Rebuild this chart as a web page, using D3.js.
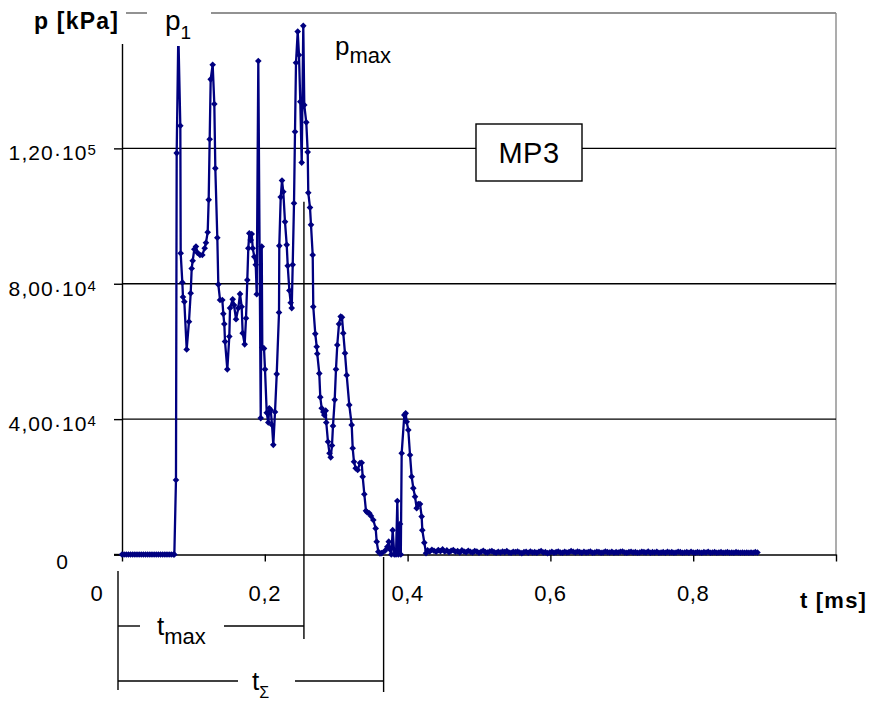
<!DOCTYPE html>
<html><head><meta charset="utf-8">
<script src="https://cdn.jsdelivr.net/npm/d3@7/dist/d3.min.js"></script>
<style>
html,body{margin:0;padding:0;background:#fff;}
svg{display:block;font-family:"Liberation Sans",Arial,sans-serif;}
</style></head>
<body>
<svg id="chart" width="874" height="701"></svg>
<script>
// ---- data ----
const leadStart = 0, leadStep = 0.003;
const leadValues = [0,0,0,0,0,0,0,0,0,0,0,0,0,0,0,0,0,0,0,0,0,0,0,0,0];

const activeTimes = [0.0733,0.0756,0.0766,0.0789,0.0817,0.0822,0.0845,0.0854,0.0873,0.0906,
0.0938,0.0962,0.0976,0.0990,0.1013,0.1036,0.1055,0.1092,0.1125,0.1158,
0.1176,0.1200,0.1214,0.1228,0.1242,0.1270,0.1293,0.1307,0.1335,0.1349,
0.1373,0.1405,0.1419,0.1433,0.1443,0.1475,0.1503,0.1513,0.1550,0.1569,
0.1597,0.1629,0.1653,0.1676,0.1690,0.1718,0.1737,0.1755,0.1769,0.1783,
0.1803,0.1817,0.1831,0.1853,0.1873,0.1887,0.1909,0.1943,0.1957,0.1965,
0.1989,0.2003,0.2027,0.2049,0.2063,0.2083,0.2101,0.2119,0.2143,0.2167,
0.2199,0.2203,0.2223,0.2241,0.2259,0.2283,0.2307,0.2321,0.2344,0.2363,
0.2377,0.2391,0.2409,0.2423,0.2437,0.2461,0.2479,0.2497,0.2517,0.2539,
0.2553,0.2581,0.2601,0.2609,0.2633,0.2647,0.2671,0.2679,0.2707,0.2727,
0.2735,0.2763,0.2777,0.2797,0.2819,0.2833,0.2853,0.2861,0.2885,0.2906,
0.2923,0.2941,0.2955,0.2979,0.2997,0.3015,0.3039,0.3063,0.3081,0.3099,
0.3123,0.3147,0.3183,0.3217,0.3231,0.3249,0.3273,0.3301,0.3333,0.3357,
0.3371,0.3394,0.3417,0.3436,0.3464,0.3487,0.3520,0.3553,0.3567,0.3590,
0.3613,0.3637,0.3683,0.3716,0.3736,0.3754,0.3772,0.3791,0.3814,0.3838,
0.3856,0.3870,0.3894,0.3905,0.3917,0.3954,0.3973,0.3987,0.4010,0.4034,
0.4057,0.4080,0.4104,0.4127,0.4150,0.4174,0.4197,0.4206,0.4234,0.4258];

const activeValues = [0,22000,118600,154000,126700,89000,80400,76100,74700,60600,
68800,77200,84500,86800,90200,91000,89200,88500,88500,90500,
92100,95200,104800,122700,140400,144700,133100,114100,93600,79800,
75200,75200,71100,68100,62900,54700,64400,72800,75400,73700,
69500,72800,77000,73200,65400,62100,69800,81100,90500,94900,
92900,94700,90500,88000,85600,76900,145800,40300,91000,61200,
60900,54700,41900,39000,43200,42700,38300,32400,42100,53300,
71500,91200,105600,110500,107200,98300,91500,85300,78000,74400,
72800,85600,103800,124900,145300,154500,147600,133800,115800,156200,
132800,127700,118900,106900,102500,97400,88500,73200,65200,61400,
59300,53500,46500,43200,42100,41200,42500,39000,33300,29900,
28700,32200,38000,45700,54700,61900,68100,70300,70100,65400,
59500,53000,44200,38300,31400,27400,25500,25000,27000,27100,
23000,17800,12900,12400,12200,11400,10200,7700,3800,800,
300,400,1100,2300,3800,1500,0,7200,0,0,
15800,0,9000,0,29900,41200,41700,39200,36800,29400,
23000,19600,17100,13700,14900,14900,11200,7200,3500,400];

const tailStart = 0.428, tailStep = 0.003;
const tailValues = [
1200,900,1400,1100,800,1300,1000,1500,900,1200,
700,1100,1300,800,1000,600,1200,900,700,1100,
800,600,1000,900,500,800,1100,700,600,900,
1000,700,500,800,600,900,700,1000,600,500,
800,700,900,600,400,700,800,500,900,600,
700,500,800,1000,600,700,400,600,800,500,
700,900,600,500,800,600,700,1000,800,600,
900,700,500,800,600,700,900,500,600,800,
700,500,600,900,700,600,800,500,700,600,
800,900,600,500,700,800,600,700,500,600,
800,700,600,900,500,700,600,800,500,600,
700,500,800,600,700,500,600,800,700,500,
600,700,500,800,600,500,700,600,500,700,
600,800,500,600,700,500,600,700,500,600,
700,500,600,500,700,600,500,600,500,600,
500,600,500,700,600];

const yTicks = [0, 40000, 80000, 120000];
const yTickMain = ["0", "4,00·10", "8,00·10", "1,20·10"];
const yTickExp = ["", "4", "4", "5"];
const xTicks = [0, 0.2, 0.4, 0.6, 0.8, 1.0];
const xTickLabels = ["0", "0,2", "0,4", "0,6", "0,8", ""];

// ---- build series ----
const series = [];
leadValues.forEach((v,i)=>series.push({t: leadStart + i*leadStep, p: v}));
activeTimes.forEach((t,i)=>series.push({t: t, p: activeValues[i]}));
tailValues.forEach((v,i)=>series.push({t: tailStart + i*tailStep, p: v}));

// ---- scales ----
const x = d3.scaleLinear().domain([0, 1.0]).range([122, 836]);
const y = d3.scaleLinear().domain([0, 160000]).range([554.5, 13]);

const svg = d3.select("#chart");
const FONT = "'Liberation Sans', Arial, sans-serif";

// plot border (top & right, gray)
svg.append("line").attr("x1", x(0)).attr("x2", x(1)).attr("y1", y(160000)).attr("y2", y(160000))
  .attr("stroke", "#6e6e6e").attr("stroke-width", 1.4);
svg.append("line").attr("x1", x(1)).attr("x2", x(1)).attr("y1", y(160000)).attr("y2", y(0))
  .attr("stroke", "#8a8a8a").attr("stroke-width", 1.4);

// gridlines
svg.append("g").selectAll("line").data(yTicks.slice(1)).join("line")
  .attr("x1", x(0)).attr("x2", x(1)).attr("y1", d=>y(d)).attr("y2", d=>y(d))
  .attr("stroke", "#000").attr("stroke-width", 1.4);

// y axis
const yAxis = svg.append("g").attr("transform", `translate(${x(0)},0)`)
  .call(d3.axisLeft(y).tickValues(yTicks).tickSize(8).tickFormat(""));
yAxis.select(".domain").attr("stroke", "#000").attr("stroke-width", 1.4);
yAxis.selectAll(".tick line").attr("stroke", "#000").attr("stroke-width", 1.4);

// x axis
const xAxis = svg.append("g").attr("transform", `translate(0,${y(0)})`)
  .call(d3.axisBottom(x).tickValues(xTicks).tickSize(7).tickSizeOuter(0).tickFormat(""));
xAxis.select(".domain").attr("stroke", "#000").attr("stroke-width", 1.4);
xAxis.selectAll(".tick line").attr("stroke", "#000").attr("stroke-width", 1.4);
svg.append("line").attr("x1", 114).attr("x2", x(0)).attr("y1", y(0)).attr("y2", y(0))
  .attr("stroke", "#000").attr("stroke-width", 1.4);

// brackets t_max, t_sigma
const tMax = 0.2548, tSum = 0.3664;
const br = svg.append("g").attr("stroke", "#000").attr("stroke-width", 1.4);
br.append("line").attr("x1", x(0)-4).attr("x2", x(0)-4).attr("y1", 571).attr("y2", 690);
br.append("line").attr("x1", x(tMax)).attr("x2", x(tMax)).attr("y1", 201.7).attr("y2", 639);
br.append("line").attr("x1", x(tSum)).attr("x2", x(tSum)).attr("y1", 557).attr("y2", 692);
br.append("line").attr("x1", x(0)-4).attr("x2", 140).attr("y1", 626).attr("y2", 626);
br.append("line").attr("x1", 224).attr("x2", x(tMax)).attr("y1", 626).attr("y2", 626);
br.append("line").attr("x1", x(0)-4).attr("x2", 238).attr("y1", 681).attr("y2", 681);
br.append("line").attr("x1", 295).attr("x2", x(tSum)).attr("y1", 681).attr("y2", 681);

// data line
const line = d3.line().x(d=>x(d.t)).y(d=>y(d.p));
svg.append("path").datum(series).attr("d", line)
  .attr("fill", "none").attr("stroke", "#000080").attr("stroke-width", 2.3)
  .attr("stroke-linejoin", "round");
const sym = d3.symbol().type(d3.symbolSquare).size(22);
svg.append("g").selectAll("path").data(series).join("path")
  .attr("d", sym)
  .attr("transform", d=>`translate(${x(d.t)},${y(d.p)}) rotate(45)`)
  .attr("fill", "#000080");

// label boxes
svg.append("rect").attr("x", 0).attr("y", 0).attr("width", 126).attr("height", 44).attr("fill", "#fff");
svg.append("rect").attr("x", 147).attr("y", 0).attr("width", 64).attr("height", 46).attr("fill", "#fff");

// texts
svg.append("text").attr("x", 34).attr("y", 29).attr("font-family", FONT).attr("font-weight", "bold")
  .attr("font-size", 23).attr("letter-spacing", 1.2).text("p [kPa]");

const p1 = svg.append("text").attr("x", 165).attr("y", 30).attr("font-family", FONT).attr("font-size", 28);
p1.append("tspan").text("p");
p1.append("tspan").attr("font-size", 19).attr("dy", 9).text("1");

const pm = svg.append("text").attr("x", 335).attr("y", 55).attr("font-family", FONT).attr("font-size", 26);
pm.append("tspan").text("p");
pm.append("tspan").attr("font-size", 22).attr("dy", 8).text("max");

svg.append("rect").attr("x", 476).attr("y", 124).attr("width", 106).attr("height", 57)
  .attr("fill", "#fff").attr("stroke", "#000").attr("stroke-width", 1.4);
svg.append("text").attr("x", 529).attr("y", 163).attr("text-anchor", "middle")
  .attr("font-family", FONT).attr("font-size", 29).attr("letter-spacing", 0.5).text("MP3");

// y tick labels
yTicks.forEach((v,i)=>{
  const t = svg.append("text").attr("font-family", FONT).attr("font-size", 21);
  if (i === 0) {
    t.attr("x", 62).attr("y", y(v)+14).attr("text-anchor", "middle").text(yTickMain[i]);
  } else {
    t.attr("x", 97).attr("y", y(v)+12).attr("text-anchor", "end").attr("letter-spacing", 1.1);
    t.append("tspan").text(yTickMain[i]);
    t.append("tspan").attr("font-size", 15).attr("dy", -5).text(yTickExp[i]);
  }
});

// x tick labels
xTicks.forEach((v,i)=>{
  if (!xTickLabels[i]) return;
  svg.append("text").attr("x", i === 0 ? 97 : x(v)).attr("y", 601).attr("text-anchor", "middle")
    .attr("font-family", FONT).attr("font-size", 22).attr("letter-spacing", 0.6).text(xTickLabels[i]);
});
svg.append("text").attr("x", 800).attr("y", 608).attr("font-family", FONT).attr("font-weight", "bold")
  .attr("font-size", 22).attr("letter-spacing", 1.2).text("t [ms]");

const tm = svg.append("text").attr("x", 157).attr("y", 635).attr("font-family", FONT).attr("font-size", 26);
tm.append("tspan").text("t");
tm.append("tspan").attr("font-size", 22).attr("dy", 9).text("max");

const ts = svg.append("text").attr("x", 252).attr("y", 690).attr("font-family", FONT).attr("font-size", 26);
ts.append("tspan").text("t");
ts.append("tspan").attr("font-size", 16).attr("dy", 8).text("Σ");
</script>
</body></html>
